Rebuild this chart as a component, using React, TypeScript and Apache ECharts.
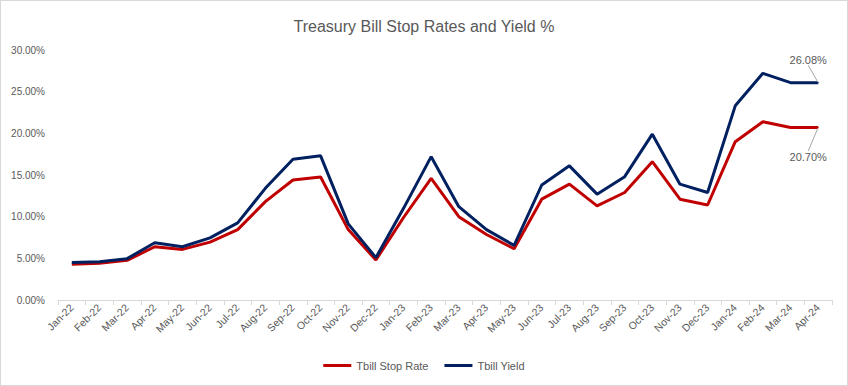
import React, { useEffect, useRef } from "react";
import * as echarts from "echarts";

const categories = [
  "Jan-22", "Feb-22", "Mar-22", "Apr-22", "May-22", "Jun-22", "Jul-22", "Aug-22", "Sep-22", "Oct-22", "Nov-22", "Dec-22",
  "Jan-23", "Feb-23", "Mar-23", "Apr-23", "May-23", "Jun-23", "Jul-23", "Aug-23", "Sep-23", "Oct-23", "Nov-23", "Dec-23",
  "Jan-24", "Feb-24", "Mar-24", "Apr-24",
];

const stopRate = [
  4.29, 4.4, 4.76, 6.39, 6.07, 6.94, 8.45, 11.8, 14.4, 14.76, 8.45, 4.8,
  9.9, 14.6, 10.0, 7.86, 6.15, 12.1, 13.9, 11.3, 12.9, 16.6, 12.1, 11.4,
  19.0, 21.4, 20.7, 20.7,
];

const yieldRate = [
  4.49, 4.6, 4.96, 6.87, 6.39, 7.46, 9.25, 13.4, 16.9, 17.3, 9.13, 5.08,
  11.0, 17.2, 11.2, 8.45, 6.55, 13.8, 16.1, 12.7, 14.8, 19.9, 13.9, 12.9,
  23.3, 27.2, 26.08, 26.08,
];

const yTicks = { min: 0, max: 30, interval: 5 };

const FONT = "Liberation Sans";
const GREY = "#595959";

export default function App() {
  const ref = useRef<HTMLDivElement>(null);

  useEffect(() => {
    document.body.style.margin = "0";
    const chart = echarts.init(ref.current!, null, { renderer: "svg" });
    const last = categories.length - 1;
    const withLastLabel = (arr: number[], pos: string) =>
      arr.map((v, i) =>
        i === last
          ? {
              value: v,
              symbol: "circle",
              symbolSize: 1,
              label: {
                show: true,
                position: pos,
                formatter: (p: any) => p.value.toFixed(2) + "%",
                color: GREY,
                fontFamily: FONT,
                fontSize: 11,
              },
            }
          : { value: v, symbol: "none" }
      );

    chart.setOption({
      animation: false,
      backgroundColor: "#ffffff",
      title: {
        text: "Treasury Bill Stop Rates and Yield %",
        left: "center",
        top: 12,
        textStyle: { color: GREY, fontFamily: FONT, fontSize: 16, fontWeight: "normal" },
      },
      legend: {
        bottom: 9,
        left: "center",
        itemWidth: 28,
        itemHeight: 3,
        itemGap: 16,
        icon: "rect",
        textStyle: { color: GREY, fontFamily: FONT, fontSize: 11 },
        data: ["Tbill Stop Rate", "Tbill Yield"],
      },
      grid: { left: 57, right: 15, top: 49, bottom: 85, containLabel: false },
      xAxis: {
        type: "category",
        data: categories,
        boundaryGap: true,
        axisLine: { lineStyle: { color: "#d9d9d9" } },
        axisTick: { show: true, length: 5, lineStyle: { color: "#d9d9d9" } },
        axisLabel: { rotate: 45, color: GREY, fontFamily: FONT, fontSize: 10.5, margin: 6, interval: 0 },
      },
      yAxis: {
        type: "value",
        min: yTicks.min,
        max: yTicks.max,
        interval: yTicks.interval,
        axisLine: { show: false },
        axisTick: { show: false },
        splitLine: { show: false },
        axisLabel: {
          color: GREY,
          fontFamily: FONT,
          fontSize: 10,
          margin: 13,
          formatter: (v: number) => v.toFixed(2) + "%",
        },
      },
      series: [
        {
          name: "Tbill Stop Rate",
          type: "line",
          data: withLastLabel(stopRate, "bottom"),
          showSymbol: true,
          color: "#C00000",
          itemStyle: { color: "#C00000" },
          lineStyle: { width: 3, color: "#C00000" },
          labelLine: { show: true, lineStyle: { color: "#a6a6a6", width: 1 } },
          labelLayout: (p: any) => (p.dataIndex === last ? { dx: -10, dy: 18 } : {}),
          z: 2,
        },
        {
          name: "Tbill Yield",
          type: "line",
          data: withLastLabel(yieldRate, "top"),
          showSymbol: true,
          color: "#002060",
          itemStyle: { color: "#002060" },
          lineStyle: { width: 3, color: "#002060" },
          labelLine: { show: true, lineStyle: { color: "#a6a6a6", width: 1 } },
          labelLayout: (p: any) => (p.dataIndex === last ? { dx: -10, dy: -12 } : {}),
          z: 3,
        },
      ],
    });
    return () => chart.dispose();
  }, []);

  return (
    <div
      ref={ref}
      style={{
        position: "absolute",
        left: 0,
        top: 0,
        width: 848,
        height: 386,
        boxSizing: "border-box",
        border: "1px solid #d9d9d9",
      }}
    />
  );
}
